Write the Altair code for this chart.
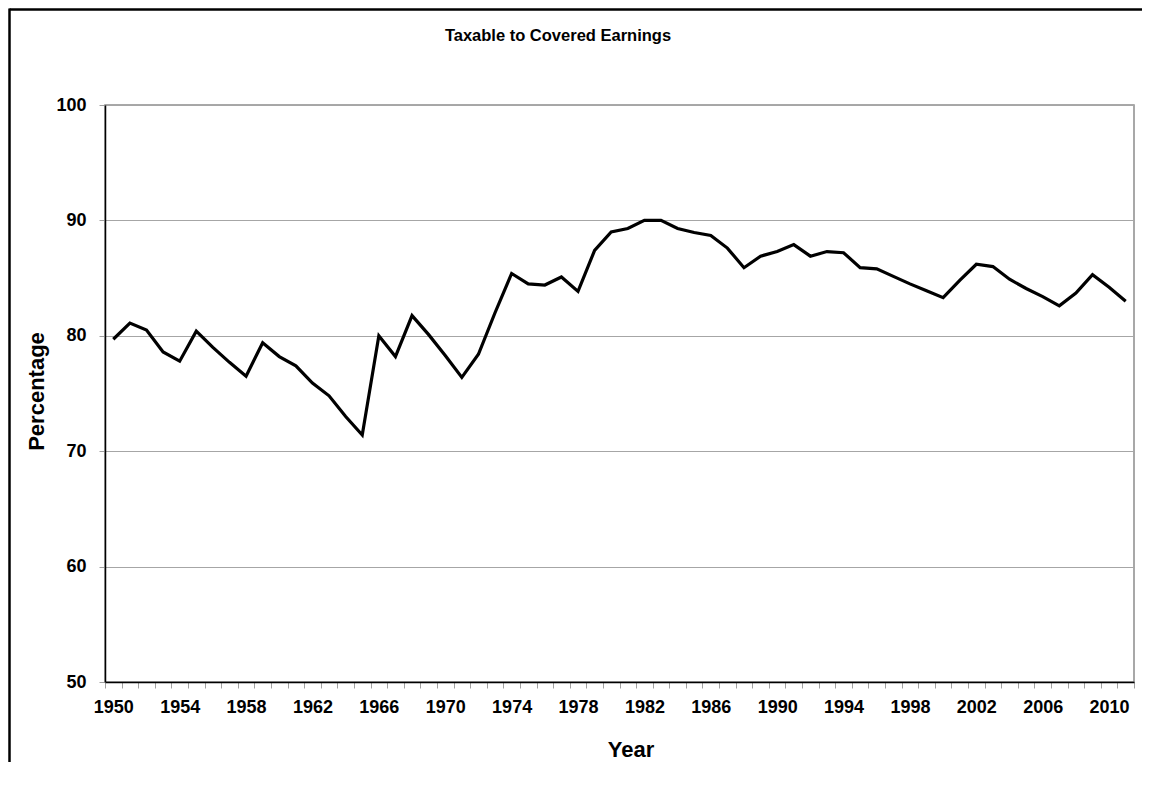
import altair as alt
import pandas as pd

years = list(range(1950, 2012))
percentage = [
    79.7, 81.1, 80.5, 78.6, 77.8, 80.4, 79.0, 77.7, 76.5, 79.4,
    78.2, 77.4, 75.9, 74.8, 73.0, 71.4, 80.0, 78.2, 81.75, 80.1,
    78.3, 76.4, 78.4, 82.0, 85.4, 84.5, 84.4, 85.1, 83.85, 87.4,
    89.0, 89.3, 90.0, 90.0, 89.3, 88.95, 88.7, 87.6, 85.9, 86.9,
    87.3, 87.9, 86.9, 87.3, 87.2, 85.9, 85.8, 85.15, 84.5, 83.9,
    83.3, 84.8, 86.2, 86.0, 84.9, 84.1, 83.4, 82.6, 83.7, 85.3,
    84.2, 83.0,
]
y_ticks = [50, 60, 70, 80, 90, 100]
x_tick_bounds = [y - 0.5 for y in years] + [years[-1] + 0.5]

df = pd.DataFrame({"Year": years, "Percentage": percentage})

W, H = 1029, 577
PAD_L, PAD_T, PAD_R, PAD_B = 97, 97, 8, 80
FONT = "Liberation Sans, Arial, sans-serif"
half_band = W / len(years) / 2

frame_top = alt.Chart(alt.Data(values=[{}])).mark_rule(
    color="black", strokeWidth=2.5
).encode(
    x=alt.value(-95.5), x2=alt.value(W + PAD_R), y=alt.value(-95.5),
)
frame_left = alt.Chart(alt.Data(values=[{}])).mark_rule(
    color="black", strokeWidth=2.5
).encode(
    x=alt.value(-95.5), y=alt.value(-96.5), y2=alt.value(H + PAD_B),
)

line = alt.Chart(df).mark_line(color="black", strokeWidth=3.2).encode(
    x=alt.X(
        "Year:Q",
        scale=alt.Scale(domain=[years[0] - 0.5, years[-1] + 0.5], nice=False, zero=False),
        axis=alt.Axis(
            values=x_tick_bounds,
            labelExpr="(datum.value + 0.5) % 4 == 2 ? format(datum.value + 0.5, 'd') : ''",
            labelOffset=half_band,
            labelFlush=False,
            labelOverlap=False,
            labelBound=False,
            grid=False,
            tickSize=6,
            tickColor="#a0a0a0",
            tickWidth=1,
            domainColor="black",
            domainWidth=1.5,
            labelFont=FONT,
            labelFontSize=18,
            labelFontWeight="bold",
            labelColor="black",
            labelPadding=10,
            title="Year",
            titleFont=FONT,
            titleFontSize=22,
            titleFontWeight="bold",
            titleColor="black",
            titleX=525.5,
            titleY=74.5,
            titleAlign="center",
            titleBaseline="alphabetic",
        ),
    ),
    y=alt.Y(
        "Percentage:Q",
        scale=alt.Scale(domain=[50, 100], nice=False, zero=False),
        axis=alt.Axis(
            values=y_ticks,
            format="d",
            grid=True,
            gridColor="#a6a6a6",
            gridWidth=1,
            tickSize=6,
            tickColor="#a0a0a0",
            domainColor="black",
            domainWidth=1.5,
            labelFont=FONT,
            labelFontSize=18,
            labelFontWeight="bold",
            labelColor="black",
            labelPadding=13,
            title="Percentage",
            titleFont=FONT,
            titleFontSize=22,
            titleFontWeight="bold",
            titleColor="black",
            titleAngle=270,
            titleX=-62,
            titleY=286,
            titleAlign="center",
            titleBaseline="alphabetic",
        ),
    ),
)

chart = alt.layer(frame_top, frame_left, line).properties(
    width=W,
    height=H,
    autosize=alt.AutoSizeParams(type="none"),
    padding={"left": PAD_L, "top": PAD_T, "right": PAD_R, "bottom": PAD_B},
    title=alt.TitleParams(
        text="Taxable to Covered Earnings",
        frame="group",
        anchor="middle",
        dx=-61.5,
        offset=-50.5,
        baseline="alphabetic",
        font=FONT,
        fontSize=16.5,
        fontWeight="bold",
        color="black",
    ),
).configure_view(stroke="#8c8c8c", strokeWidth=1.5)

chart.save("out.html", embed_options={"renderer": "svg", "actions": False})
